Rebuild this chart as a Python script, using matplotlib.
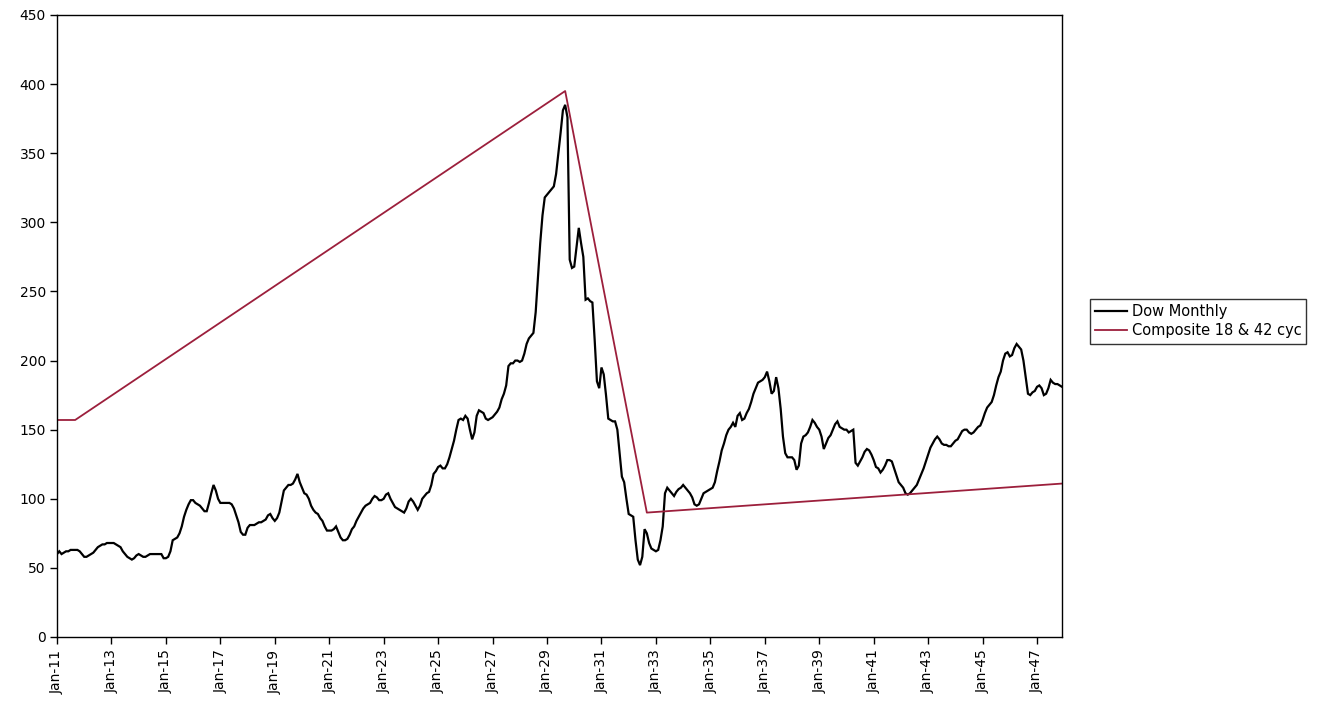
import matplotlib
matplotlib.use("Agg")
import matplotlib.pyplot as plt
import numpy as np
import pandas as pd

plt.rcParams['font.family'] = ['DejaVu Sans']

# ---------------- data ----------------
start_year = 1911
dow = {
    1911: [60, 62, 60, 61, 62, 62, 63, 63, 63, 63, 62, 60],
    1912: [58, 58, 59, 60, 61, 63, 65, 66, 67, 67, 68, 68],
    1913: [68, 68, 67, 66, 65, 62, 60, 58, 57, 56, 57, 59],
    1914: [60, 59, 58, 58, 59, 60, 60, 60, 60, 60, 60, 57],
    1915: [57, 58, 62, 70, 71, 72, 75, 80, 87, 92, 96, 99],
    1916: [99, 97, 96, 95, 93, 91, 91, 97, 104, 110, 106, 100],
    1917: [97, 97, 97, 97, 97, 96, 93, 88, 83, 76, 74, 74],
    1918: [79, 81, 81, 81, 82, 83, 83, 84, 85, 88, 89, 86],
    1919: [84, 86, 90, 98, 106, 108, 110, 110, 111, 114, 118, 112],
    1920: [108, 104, 103, 100, 95, 92, 90, 89, 86, 84, 80, 77],
    1921: [77, 77, 78, 80, 76, 72, 70, 70, 71, 74, 78, 80],
    1922: [84, 87, 90, 93, 95, 96, 97, 100, 102, 101, 99, 99],
    1923: [100, 103, 104, 100, 97, 94, 93, 92, 91, 90, 93, 98],
    1924: [100, 98, 95, 92, 95, 100, 102, 104, 105, 110, 118, 120],
    1925: [123, 124, 122, 122, 125, 130, 136, 142, 150, 157, 158, 157],
    1926: [160, 158, 150, 143, 148, 160, 164, 163, 162, 158, 157, 158],
    1927: [159, 161, 163, 166, 172, 176, 182, 196, 198, 198, 200, 200],
    1928: [199, 200, 205, 212, 216, 218, 220, 235, 260, 285, 305, 318],
    1929: [320, 322, 324, 326, 335, 350, 365, 381, 385, 376, 273, 267],
    1930: [268, 282, 296, 285, 275, 244, 245, 243, 242, 215, 185, 180],
    1931: [195, 190, 175, 158, 157, 156, 156, 150, 133, 116, 112, 100],
    1932: [89, 88, 87, 70, 56, 52, 58, 78, 75, 68, 64, 63],
    1933: [62, 63, 70, 80, 104, 108, 106, 104, 102, 105, 107, 108],
    1934: [110, 108, 106, 104, 101, 96, 95, 96, 100, 104, 105, 106],
    1935: [107, 108, 112, 120, 127, 135, 140, 146, 150, 152, 155, 152],
    1936: [160, 162, 157, 158, 162, 165, 170, 176, 180, 184, 185, 186],
    1937: [188, 192, 185, 176, 178, 188, 180, 165, 145, 133, 130, 130],
    1938: [130, 128, 121, 124, 140, 145, 146, 148, 152, 157, 155, 152],
    1939: [150, 145, 136, 140, 144, 146, 150, 154, 156, 152, 151, 150],
    1940: [150, 148, 149, 150, 126, 124, 127, 130, 134, 136, 135, 132],
    1941: [128, 123, 122, 119, 121, 124, 128, 128, 127, 122, 117, 112],
    1942: [110, 108, 104, 103, 104, 106, 108, 110, 114, 118, 122, 127],
    1943: [132, 137, 140, 143, 145, 143, 140, 139, 139, 138, 138, 140],
    1944: [142, 143, 146, 149, 150, 150, 148, 147, 148, 150, 152, 153],
    1945: [157, 162, 166, 168, 170, 175, 182, 188, 192, 200, 205, 206],
    1946: [203, 204, 209, 212, 210, 208, 200, 188, 176, 175, 177, 178],
    1947: [181, 182, 180, 175, 176, 180, 186, 184, 183, 183, 182, 181],
}

# Composite 18 & 42 cyc: turning points (month, value)
comp_months = ['1911-01', '1911-09', '1929-09', '1932-09', '1947-12']
comp_values = [157, 157, 395, 90, 111]

tick_labels = ['Jan-11', 'Jan-13', 'Jan-15', 'Jan-17', 'Jan-19', 'Jan-21', 'Jan-23',
               'Jan-25', 'Jan-27', 'Jan-29', 'Jan-31', 'Jan-33', 'Jan-35', 'Jan-37',
               'Jan-39', 'Jan-41', 'Jan-43', 'Jan-45', 'Jan-47']

legend_labels = ['Dow Monthly', 'Composite 18 & 42 cyc']

# ---------------- build ----------------
dow_values = np.concatenate([dow[y] for y in sorted(dow)])
x_dow = np.arange(len(dow_values))

base = pd.Period('1911-01', freq='M')
x_comp = [(pd.Period(m, freq='M') - base).n for m in comp_months]

fig = plt.figure(figsize=(13.22, 7.06), dpi=100)
fig.patch.set_facecolor('white')
ax = fig.add_axes([57/1322, 1-637/706, (1062-57)/1322, (637-15)/706])

l1, = ax.plot(x_dow, dow_values, color='black', lw=1.6, solid_joinstyle='miter')
l2, = ax.plot(x_comp, comp_values, color='#9C1F3C', lw=1.3)

ax.set_xlim(0, len(dow_values) - 1)
ax.set_ylim(0, 450)
ax.set_yticks(np.arange(0, 451, 50))
ax.set_xticks(np.arange(0, len(dow_values), 24))
ax.set_xticklabels(tick_labels, rotation=90)

ax.tick_params(axis='both', direction='out', length=5, width=1, colors='black',
               labelsize=10)
ax.tick_params(axis='y', pad=3)
ax.tick_params(axis='x', pad=4)
for s in ax.spines.values():
    s.set_color('black')
    s.set_linewidth(1.0)

leg = fig.legend([l1, l2], legend_labels, loc='upper left',
                 bbox_to_anchor=(1090/1322, 1-299/706),
                 bbox_transform=fig.transFigure,
                 fontsize=10.5, frameon=True, fancybox=False,
                 edgecolor='black', handlelength=2.2, handletextpad=0.3,
                 borderpad=0.35, labelspacing=0.3, borderaxespad=0)
leg.get_frame().set_linewidth(1.0)

fig.savefig('out.png', dpi=100, facecolor='white')
